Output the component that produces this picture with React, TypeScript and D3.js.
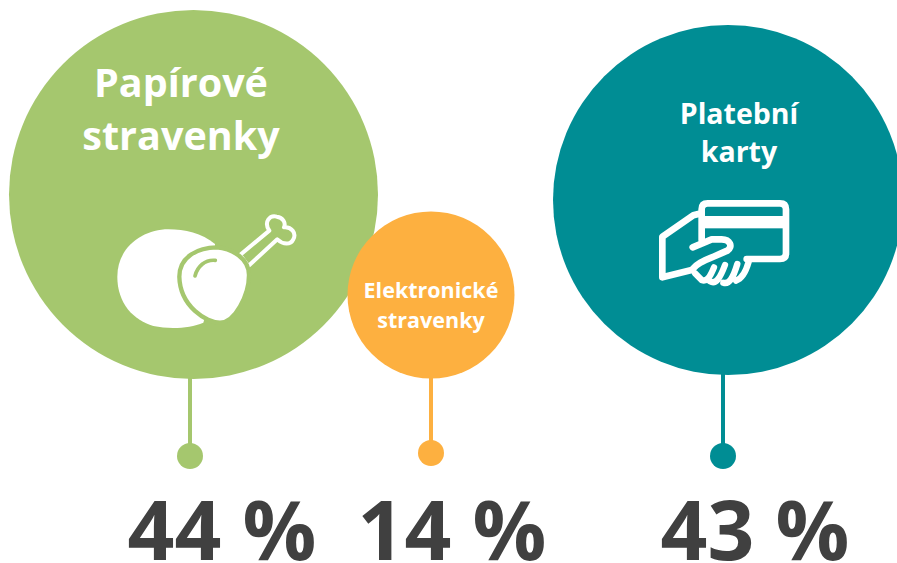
import * as d3 from 'd3';

const categories = ['paper', 'electronic', 'cards'];
const shares = [44, 14, 43];
const titles = [['Papírové', 'stravenky'], ['Elektronické', 'stravenky'], ['Platební', 'karty']];
const colors = ['#a5c76e', '#fdb040', '#008d94'];

const WIDTH = 897;
const HEIGHT = 563;

// layout per category
const centerX = d3.scaleOrdinal<string, number>(categories, [193.5, 431, 728]);
const centerY = d3.scaleOrdinal<string, number>(categories, [194.5, 295, 200]);
const radius = d3.scaleOrdinal<string, number>(categories, [184.5, 83.5, 175]);
const stemX = d3.scaleOrdinal<string, number>(categories, [190, 431, 723]);
const dotY = d3.scaleOrdinal<string, number>(categories, [456, 453, 456]);
const labelX = d3.scaleOrdinal<string, number>(categories, [222, 452, 755]);
const titleX = d3.scaleOrdinal<string, number>(categories, [181, 431, 739]);
const titleY = d3.scaleOrdinal<string, number[]>(categories, [[97, 150], [298, 328], [124, 162]]);
const titleSize = d3.scaleOrdinal<string, number>(categories, [39.5, 21.5, 28.5]);

const font = '"Open Sans", Lato, sans-serif';

// drawn in 3x units, scaled down by the parent group
function ChickenIcon({ back }: { back: string }) {
  return (
    <g transform="translate(100,200) scale(0.3333)">
      <path
        d="M345,132 C305,100 255,88 205,88 C130,88 52,140 52,230 C52,310 100,360 160,378 C210,388 270,385 310,368 L345,250 Z"
        fill="#fff"
      />
      <path
        d="M420,165 L508,92 C490,65 510,45 530,50 C550,52 558,70 552,82 C575,80 590,100 580,118 C572,135 550,135 532,118 L445,198 Z"
        fill={back}
        stroke="#fff"
        strokeWidth={12}
        strokeLinejoin="round"
      />
      <path
        d="M350,142 C395,145 447,175 447,225 C447,285 405,368 360,368 C320,368 240,320 238,230 C238,170 295,142 350,142 Z"
        fill="#fff"
        stroke={back}
        strokeWidth={13}
      />
      <path
        d="M285,228 C292,200 315,178 346,181"
        fill="none"
        stroke={back}
        strokeWidth={11}
        strokeLinecap="round"
      />
    </g>
  );
}

function CardIcon() {
  return (
    <g transform="translate(640,190) scale(0.3333)" fill="none" stroke="#fff" strokeWidth={20} strokeLinejoin="round" strokeLinecap="round">
      <path d="M185,150 L185,58 Q185,40 203,40 L420,40 Q438,40 438,58 L438,190 Q438,207 420,207 L320,207" />
      <rect x={185} y={78} width={253} height={37} fill="#fff" stroke="none" />
      <path d="M175,72 L160,76 L67,140 L67,262 L155,240 C175,215 200,210 262,182 C280,170 270,148 245,148 L215,148 L158,172" />
      <path d="M165,250 L185,270 C200,276 210,262 222,232 M210,274 C228,284 240,265 255,225 M250,278 C268,284 280,262 292,222 M288,272 C308,266 318,244 326,216" strokeWidth={19} />
    </g>
  );
}

export default function App() {
  return (
    <svg
      width={WIDTH}
      height={HEIGHT}
      viewBox={`0 0 ${WIDTH} ${HEIGHT}`}
      style={{ position: 'absolute', left: 0, top: 0, background: '#fff' }}
    >
      {categories.map((category, i) => (
        <g key={category}>
          <line
            x1={stemX(category)}
            x2={stemX(category)}
            y1={centerY(category) + radius(category) - 4}
            y2={dotY(category)}
            stroke={colors[i]}
            strokeWidth={4}
          />
          <circle cx={stemX(category)} cy={dotY(category)} r={13} fill={colors[i]} />
          <circle cx={centerX(category)} cy={centerY(category)} r={radius(category)} fill={colors[i]} />
          {titles[i].map((line, j) => (
            <text
              key={line}
              x={titleX(category)}
              y={titleY(category)[j]}
              textAnchor="middle"
              fontFamily={font}
              fontWeight={700}
              fontSize={titleSize(category)}
              fill="#fff"
            >
              {line}
            </text>
          ))}
          <text
            x={labelX(category)}
            y={560}
            textAnchor="middle"
            fontFamily={font}
            fontWeight={700}
            fontSize={82}
            fill="#404040"
          >
            {`${shares[i]} %`}
          </text>
        </g>
      ))}
      <ChickenIcon back={colors[0]} />
      <CardIcon />
    </svg>
  );
}
